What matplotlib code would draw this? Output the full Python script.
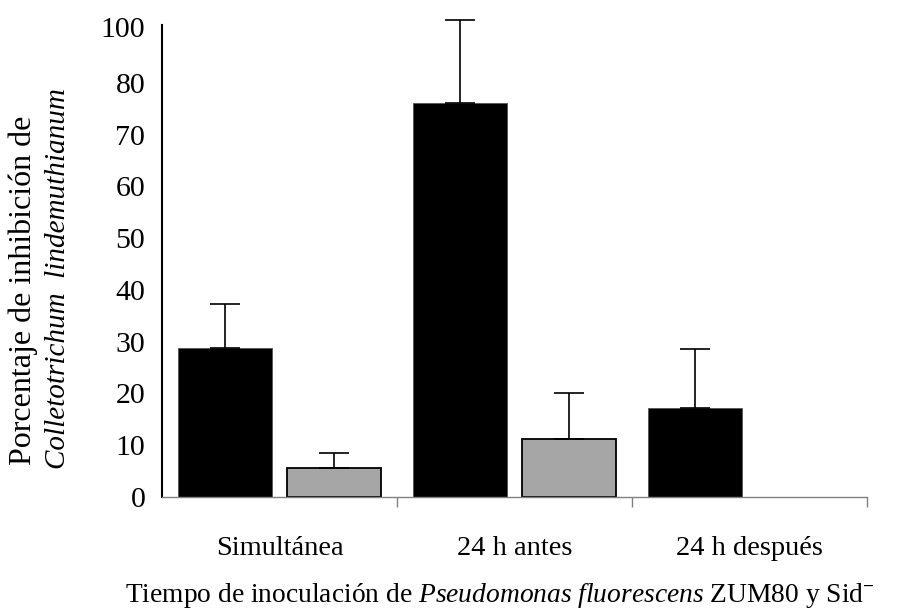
import numpy as np
import matplotlib
matplotlib.use('Agg')
import matplotlib.pyplot as plt

# data
categorias = ['Simultánea', '24 h antes', '24 h después']
zum80 = [28.8, 76.1, 17.2]
zum80_err = [8.5, 16.1, 11.4]
sid = [5.6, 11.2, 0.0]
sid_err = [2.9, 8.9, 0.0]
y_ticks = [0, 10, 20, 30, 40, 50, 60, 70, 80, 90.8]
y_tick_labels = ['0', '10', '20', '30', '40', '50', '60', '70', '80', '100']

plt.rcParams['font.family'] = ['Liberation Serif', 'DejaVu Serif']
plt.rcParams['mathtext.fontset'] = 'custom'
plt.rcParams['mathtext.rm'] = 'Liberation Serif'
plt.rcParams['mathtext.it'] = 'Liberation Serif:italic'
plt.rcParams['mathtext.bf'] = 'Liberation Serif:bold'

fig = plt.figure(figsize=(9.01, 6.11), dpi=100)
ax = fig.add_axes([162 / 901, 114 / 611, 705 / 901, 472 / 611])

x = np.arange(len(categorias))
ancho = 0.4
desp = 0.23

ax.bar(x - desp, zum80, ancho, color='black', edgecolor='#555555', linewidth=0.6, zorder=2)
bordes = ['black' if v > 0 else 'none' for v in sid]
ax.bar(x + desp, sid, ancho, color='#a6a6a6', edgecolor=bordes, linewidth=1.3, zorder=2)

# only the upper half of the error bars
err_kw = dict(fmt='none', ecolor='black', elinewidth=1.2, capsize=10.5, capthick=1.2, zorder=3)
eb1 = ax.errorbar(x - desp, zum80, yerr=[np.zeros(3), zum80_err], **err_kw)
m = np.array(sid) > 0
eb2 = ax.errorbar((x + desp)[m], np.array(sid)[m],
                  yerr=[np.zeros(m.sum()), np.array(sid_err)[m]], **err_kw)
for eb in (eb1, eb2):
    for art in eb.lines[1] + eb.lines[2]:
        art.set_clip_on(False)

ax.set_xlim(-0.5, 2.5)
ax.set_ylim(0, 91.2)
ax.set_yticks(y_ticks)
ax.set_yticklabels(y_tick_labels, fontsize=21.5)
ax.tick_params(axis='y', length=0, pad=12)

ax.set_xticks(x)
ax.set_xticklabels(categorias, fontsize=20.5)
ax.set_xticks([0.5, 1.5, 2.5], minor=True)
ax.tick_params(axis='x', which='major', length=0, pad=28)
ax.tick_params(axis='x', which='minor', length=7, width=1, color='#808080', direction='out')

for s in ['top', 'right']:
    ax.spines[s].set_visible(False)
ax.spines['left'].set_linewidth(1.5)
ax.spines['left'].set_color('black')
ax.spines['bottom'].set_linewidth(1.0)
ax.spines['bottom'].set_color('#808080')

fig.text(23 / 901, 1 - 290 / 611, 'Porcentaje de inhibición de', rotation=90,
         ha='center', va='center', fontsize=23)
fig.text(58 / 901, 1 - 279 / 611, 'Colletotrichum  lindemuthianum', rotation=90,
         ha='center', va='center', fontsize=21, style='italic')

fig.text(500 / 901, 1 - 595 / 611,
         r'Tiempo de inoculación de $\mathit{Pseudomonas\ fluorescens}$ ZUM80 y Sid$^{\mathbf{-}}$',
         ha='center', va='center', fontsize=19.8)

fig.savefig('out.png', dpi=100)
